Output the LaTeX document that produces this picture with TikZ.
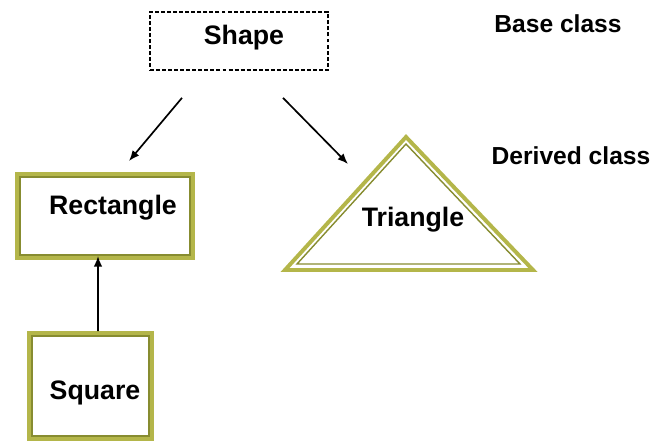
\documentclass[tikz,border=0pt]{standalone}
\usepackage{fontspec}
\setmainfont{Liberation Sans}
\usetikzlibrary{arrows.meta,positioning,calc}
\definecolor{FrameOlive}{RGB}{180,182,74}
\definecolor{FrameDark}{RGB}{135,140,48}

\begin{document}
\begin{tikzpicture}[x=0.025cm,y=-0.025cm,>={Latex[length=7.5pt,width=6pt]},
  outerline/.style={draw=FrameOlive,line width=2.8pt,line join=miter},
  innerline/.style={draw=FrameDark,line width=1pt,line join=miter},
  classbox/.style={outerline,minimum width=#1,inner sep=0pt},
  boxlabel/.style={font=\bfseries\fontsize{19}{22}\selectfont,anchor=base,inner sep=0pt},
  sidelabel/.style={font=\bfseries\fontsize{17.5}{20}\selectfont,anchor=base,inner sep=0pt},
  link/.style={->,line width=1.2pt}]
  \useasboundingbox (0,0) rectangle (653,444);

  % base class
  \node[draw,dashed,dash pattern=on 2.8pt off 1.5pt,line width=1.2pt,
        minimum width=4.45cm,minimum height=1.45cm,inner sep=0pt] (shape) at (239,41) {};
  \node[boxlabel] (shapetxt) at (244,45) {Shape};

  % derived classes
  \node[classbox=4.4cm,minimum height=2.1cm] (rect) at (105,216) {};
  \draw[innerline] ([shift={(5,5)}]rect.north west) rectangle ([shift={(-5,-5)}]rect.south east);
  \node[boxlabel] (recttxt) at (113,215) {Rectangle};

  \node[classbox=3.075cm,minimum height=2.65cm] (sq) at (90.5,386) {};
  \draw[innerline] ([shift={(5,5)}]sq.north west) rectangle ([shift={(-5,-5)}]sq.south east);
  \node[boxlabel] (sqtxt) at (95,400) {Square};

  \coordinate (tapex) at (406,137);
  \coordinate (tleft) at (285,270);
  \coordinate (tright) at (533,270);
  \draw[outerline] (tapex) -- (tleft) -- (tright) -- cycle;
  \draw[innerline] (406,144) -- (297,264) -- (520,264) -- cycle;
  \node[boxlabel] (tritxt) at (413,227) {Triangle};

  % side notes
  \node[sidelabel] (basetxt) at (558,33) {Base class};
  \node[sidelabel] (derivtxt) at (571,165) {Derived class};

  % inheritance arrows
  \draw[link] ([shift={(-57,27)}]shape.south) -- ([shift={(24,-11)}]rect.north);
  \draw[link] ([shift={(44,27)}]shape.south) -- ($(tapex)+(-58,27)$);
  \draw[link] ([shift={(7.5,0)}]sq.north) -- ([shift={(-7,-4)}]rect.south);
\end{tikzpicture}
\end{document}
